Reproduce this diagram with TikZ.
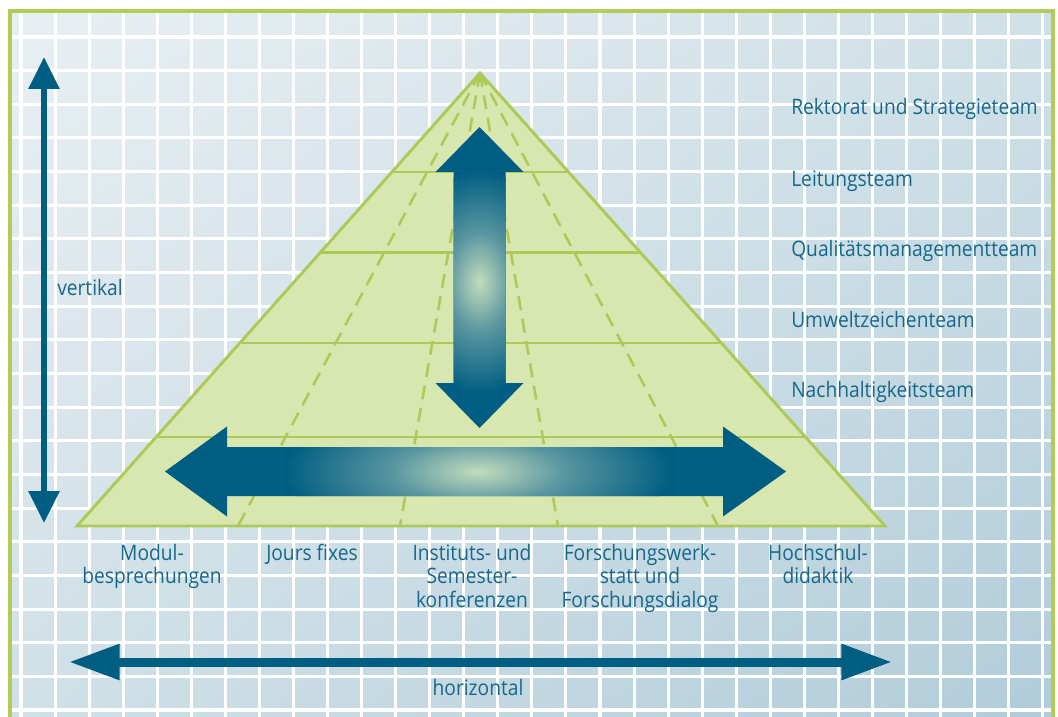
\documentclass[tikz,border=0pt]{standalone}
\usepackage{fontspec}
\setmainfont{Open Sans}[FakeStretch=0.9]
\usetikzlibrary{arrows.meta,calc,shadings}

\definecolor{petrol}{RGB}{0,94,130}
\definecolor{labeltxt}{RGB}{22,104,138}
\definecolor{framegreen}{RGB}{176,205,88}
\definecolor{pyrfill}{RGB}{216,230,176}
\definecolor{pyrline}{RGB}{172,202,88}
\definecolor{glowc}{RGB}{194,220,188}
\definecolor{glowmid}{RGB}{90,150,160}
\definecolor{bgTL}{RGB}{232,239,243}
\definecolor{bgTR}{RGB}{208,224,231}
\definecolor{bgBL}{RGB}{208,224,231}
\definecolor{bgBR}{RGB}{176,204,217}

% soft light spot in the middle of the big arrows
\pgfdeclareradialshading{glow}{\pgfpoint{0bp}{0bp}}{color(0bp)=(glowc); color(11bp)=(glowmid); color(25bp)=(petrol); color(50bp)=(petrol)}

\tikzset{
  gridline/.style={white, line width=2.3pt},
  lbl/.style={text=labeltxt, font=\fontsize{16}{17.6}\selectfont, inner sep=0pt},
  pyrrule/.style={pyrline, line width=2.2pt},
  pyrdash/.style={pyrline, line width=1.9pt, dash pattern=on 10.5pt off 6.5pt},
  axisarrowv/.style={petrol, line width=4.5pt, {Triangle[length=24pt,width=22.5pt]}-{Triangle[length=24pt,width=22.5pt]}},
  axisarrowh/.style={petrol, line width=6.75pt, {Triangle[length=38pt,width=25.5pt]}-{Triangle[length=38pt,width=25.5pt]}},
}

\begin{document}
\begin{tikzpicture}[x=0.75pt, y=-0.75pt]
\useasboundingbox (0,0) rectangle (1058,717);
\clip (0,0) rectangle (1058,717);
\fill[white] (0,0) rectangle (1058,717);

% background panel with grid
\shade[upper left=bgTL, upper right=bgTR, lower left=bgBL, lower right=bgBR]
  (10,11) rectangle (1053,722);
\begin{scope}
  \clip (10,11) rectangle (1053,722);
  \foreach \i in {0,...,30}
    \draw[gridline] ({21+\i*34.06},11) -- ({21+\i*34.06},722);
  \foreach \j in {0,...,20}
    \draw[gridline] (10,{37+\j*33.65}) -- (1053,{37+\j*33.65});
\end{scope}
\draw[framegreen, line width=2.4pt] (10,730) -- (10,11) -- (1053,11) -- (1053,730);

% pyramid
\coordinate (apex) at (480,73);
\coordinate (bl) at (77,526);
\coordinate (br) at (885,526);
\coordinate (b1) at (238,526);
\coordinate (b2) at (400,526);
\coordinate (b3) at (558,526);
\coordinate (b4) at (718,526);
\fill[pyrfill] (apex) -- (bl) -- (br) -- cycle;
\foreach \b in {b1,b2,b3,b4}
  \draw[pyrdash] (apex) -- (\b);
\foreach \t in {0.2185,0.397,0.596,0.8035}
  \draw[pyrrule] ($(apex)!\t!(bl)$) -- ($(apex)!\t!(br)$);
\draw[pyrrule, line join=miter] (apex) -- (bl) -- (br) -- cycle;

% vertical double arrow
\begin{scope}
  \clip (479.5,127) -- (523.5,172) -- (505.5,172) -- (505.5,383) -- (523.5,383)
    -- (479.5,428) -- (435.5,383) -- (453.5,383) -- (453.5,172) -- (435.5,172) -- cycle;
  \fill[petrol] (430,120) rectangle (530,435);
  \shade[shading=glow] (479.5,282) ellipse (72 and 112);
\end{scope}

% horizontal double arrow
\begin{scope}
  \clip (165,471.5) -- (227,426.5) -- (227,447) -- (723,447) -- (723,426.5)
    -- (786,471.5) -- (723,516.5) -- (723,496) -- (227,496) -- (227,516.5) -- cycle;
  \fill[petrol] (160,420) rectangle (790,520);
  \shade[shading=glow] (478,471.5) ellipse (195 and 70);
\end{scope}

% axes
\coordinate (vtop) at (44,57);
\coordinate (vbot) at (44,523);
\draw[axisarrowv] (vbot) -- (vtop);
\coordinate (hleft) at (69,662);
\coordinate (hright) at (892,662);
\draw[axisarrowh] (hleft) -- (hright);

\node[lbl, anchor=base west] (lvert) at (57,295) {vertikal};
\node[lbl, anchor=base] (lhor) at (478,695) {horizontal};

% levels
\node[lbl, anchor=base west] (l1) at (791,115) {Rektorat und Strategieteam};
\node[lbl, anchor=base west] (l2) at (791,186) {Leitungsteam};
\node[lbl, anchor=base west] (l3) at (791,256.5) {Qualitätsmanagementteam};
\node[lbl, anchor=base west] (l4) at (791,327) {Umweltzeichenteam};
\node[lbl, anchor=base west] (l5) at (791,397) {Nachhaltigkeitsteam};

% formats (base anchor sits on the last line)
\node[lbl, anchor=base, align=center] (f1) at (152,583.5) {Modul-\\besprechungen};
\node[lbl, anchor=base, align=center] (f2) at (312,560) {Jours fixes};
\node[lbl, anchor=base, align=center] (f3) at (472,607) {Instituts- und\\Semester-\\konferenzen};
\node[lbl, anchor=base, align=center] (f4) at (640,607) {Forschungswerk-\\statt und\\Forschungsdialog};
\node[lbl, anchor=base, align=center] (f5) at (818,583.5) {Hochschul-\\didaktik};
\end{tikzpicture}
\end{document}
